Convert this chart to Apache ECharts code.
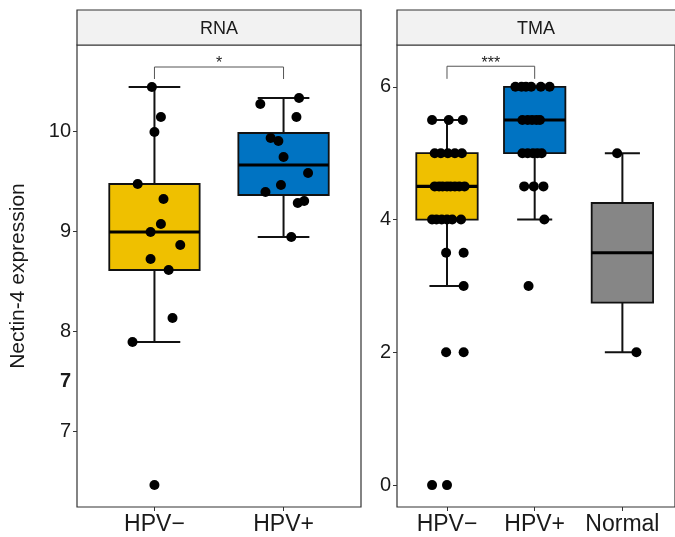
<!DOCTYPE html>
<html>
<head>
<meta charset="utf-8">
<script src="https://cdn.jsdelivr.net/npm/echarts@6/dist/echarts.min.js"></script>
<style>
  html, body { margin: 0; padding: 0; background: #fff; }
  #chart { width: 675px; height: 537px; }
</style>
</head>
<body>
<div id="chart"></div>
<script>
// ---------------- DATA ----------------
var rnaCategories = ['HPV\u2212', 'HPV+'];
var tmaCategories = ['HPV\u2212', 'HPV+', 'Normal'];

// RNA panel: box statistics [lowerWhisker, Q1, median, Q3, upperWhisker]
var rnaBoxNeg = [7.89, 8.61, 8.99, 9.47, 10.44];
var rnaBoxPos = [8.94, 9.36, 9.66, 9.98, 10.33];
// RNA panel: points (values) and their horizontal jitter (category units)
var rnaNegValues = [10.44, 10.14, 9.99, 9.47, 9.32, 9.07, 8.99, 8.86, 8.72, 8.61, 8.13, 7.89, 6.46];
var rnaNegJitter = [-0.02, 0.05, 0.00, -0.13, 0.07, 0.05, -0.03, 0.20, -0.03, 0.11, 0.14, -0.17, 0.00];
var rnaPosValues = [10.33, 10.27, 10.14, 9.93, 9.90, 9.74, 9.58, 9.46, 9.39, 9.30, 9.28, 8.94];
var rnaPosJitter = [0.12, -0.18, 0.10, -0.10, -0.04, 0.00, 0.19, -0.02, -0.14, 0.16, 0.11, 0.06];

// TMA panel: box statistics
var tmaBoxNeg = [3.0, 4.0, 4.5, 5.0, 5.5];
var tmaBoxPos = [4.0, 5.0, 5.5, 6.0, 6.0];
var tmaBoxNormal = [2.0, 2.75, 3.5, 4.25, 5.0];
// TMA panel: points
var tmaNegValues = [5.5, 5.5, 5.5,
  5, 5, 5, 5, 5,
  4.5, 4.5, 4.5, 4.5, 4.5, 4.5, 4.5, 4.5,
  4, 4, 4, 4, 4, 4,
  3.5, 3.5, 3, 2, 2, 0, 0];
var tmaNegJitter = [-0.17, 0.02, 0.18,
  -0.14, -0.07, 0.01, 0.09, 0.17,
  -0.14, -0.09, -0.05, 0.00, 0.04, 0.09, 0.14, 0.20,
  -0.17, -0.12, -0.06, 0.00, 0.06, 0.16,
  -0.01, 0.19, 0.19, -0.01, 0.19, -0.17, 0.00];
var tmaPosValues = [6, 6, 6, 6, 6, 6,
  5.5, 5.5, 5.5, 5.5, 5.5,
  5, 5, 5, 5, 5,
  4.5, 4.5, 4.5, 4, 3];
var tmaPosJitter = [-0.22, -0.15, -0.10, -0.04, 0.07, 0.17,
  -0.14, -0.08, -0.03, 0.02, 0.06,
  -0.14, -0.08, -0.02, 0.03, 0.08,
  -0.12, -0.01, 0.10, 0.11, -0.07];
var tmaNormalValues = [5, 2];
var tmaNormalJitter = [-0.06, 0.16];

// Y-axis tick labels
var rnaTickValues = [7, 8, 9, 10];
var rnaLabelValues = [7, 7.5, 8, 9, 10];
var rnaLabelTexts = ['7', '{b|7}', '8', '9', '10'];
var tmaTickValues = [0, 2, 4, 6];

// Significance brackets: [xStart, xEnd, yTop, yDrop] and labels
var rnaBracket = [1, 2, 10.64, 10.52];
var rnaBracketLabel = '*';
var tmaBracket = [1, 2, 6.31, 6.12];
var tmaBracketLabel = '***';

var panelTitles = ['RNA', 'TMA'];
var yTitle = 'Nectin-4 expression';
var fillColors = ['#EFC000', '#0073C2', '#868686'];

// ---------------- CHART ----------------
var FONT = '"Liberation Sans", Arial, Helvetica, sans-serif';
var chart = echarts.init(document.getElementById('chart'), null, { renderer: 'canvas' });

function pts(values, jitter, center) {
  return values.map(function (v, i) { return [center + jitter[i], v]; });
}
function boxItems(boxes) {
  return boxes.map(function (b, i) { return [i + 1, b[0], b[1], b[2], b[3], b[4], i]; });
}

function renderBox(params, api) {
  var x = api.value(0);
  var lo = api.coord([x, api.value(1)]);
  var q1 = api.coord([x, api.value(2)]);
  var med = api.coord([x, api.value(3)]);
  var q3 = api.coord([x, api.value(4)]);
  var hi = api.coord([x, api.value(5)]);
  var bl = api.coord([x - 0.35, 0])[0];
  var br = api.coord([x + 0.35, 0])[0];
  var cl = api.coord([x - 0.2, 0])[0];
  var cr = api.coord([x + 0.2, 0])[0];
  var color = fillColors[api.value(6)];
  var lineStyle = { stroke: '#111', lineWidth: 2 };
  return {
    type: 'group',
    children: [
      { type: 'line', shape: { x1: lo[0], y1: lo[1], x2: hi[0], y2: hi[1] }, style: lineStyle },
      { type: 'line', shape: { x1: cl, y1: lo[1], x2: cr, y2: lo[1] }, style: lineStyle },
      { type: 'line', shape: { x1: cl, y1: hi[1], x2: cr, y2: hi[1] }, style: lineStyle },
      { type: 'rect', shape: { x: bl, y: q3[1], width: br - bl, height: q1[1] - q3[1] },
        style: { fill: color, stroke: '#111', lineWidth: 1.8 } },
      { type: 'line', shape: { x1: bl, y1: med[1], x2: br, y2: med[1] },
        style: { stroke: '#000', lineWidth: 3.2 } }
    ]
  };
}

function makeBracketRenderer(label) {
  return function (params, api) {
    var a = api.coord([api.value(0), api.value(2)]);
    var b = api.coord([api.value(1), api.value(2)]);
    var ad = api.coord([api.value(0), api.value(3)]);
    var bd = api.coord([api.value(1), api.value(3)]);
    var st = { stroke: '#555', lineWidth: 1, fill: null };
    return {
      type: 'group',
      children: [
        { type: 'polyline', shape: { points: [[ad[0], ad[1]], [a[0], a[1]], [b[0], b[1]], [bd[0], bd[1]]] }, style: st },
        { type: 'text', style: { text: label, x: (a[0] + b[0]) / 2, y: a[1] - 3,
            align: 'center', verticalAlign: 'middle', font: '16px ' + FONT, fill: '#222' } }
      ]
    };
  };
}

var grids = [
  { left: 77, top: 45, width: 284, height: 462 },
  { left: 397, top: 45, width: 285, height: 462 }
];

function xAxisFor(idx, cats, max, minv) {
  var vals = cats.map(function (c, i) { return i + 1; });
  return {
    type: 'value', gridIndex: idx, min: minv, max: max, position: 'bottom',
    axisLine: { show: false, onZero: false },
    splitLine: { show: false },
    axisTick: { show: true, customValues: vals, length: 4, lineStyle: { color: '#333', width: 1 } },
    axisLabel: { customValues: vals,
      formatter: function (v) { return cats[Math.round(v) - 1] || ''; },
      fontSize: 23, fontFamily: FONT, color: '#1a1a1a', margin: 6 }
  };
}

var option = {
  animation: false,
  backgroundColor: '#fff',
  grid: grids.map(function (g) {
    return Object.assign({ show: true, borderColor: '#333', borderWidth: 1.2, backgroundColor: '#fff' }, g);
  }),
  xAxis: [
    xAxisFor(0, rnaCategories, 2.6, 0.4),
    xAxisFor(1, tmaCategories, 3.6, 0.43)
  ],
  yAxis: [
    {
      type: 'value', gridIndex: 0, min: 6.24, max: 10.86, position: 'left',
      name: yTitle, nameLocation: 'middle', nameGap: 48,
      nameTextStyle: { fontSize: 21, fontFamily: FONT, color: '#1a1a1a' },
      axisLine: { show: false, onZero: false }, splitLine: { show: false },
      axisTick: { show: true, customValues: rnaTickValues, length: 4, lineStyle: { color: '#333', width: 1 } },
      axisLabel: {
        customValues: rnaLabelValues,
        formatter: function (v) {
          var i = rnaLabelValues.indexOf(v);
          return i >= 0 ? rnaLabelTexts[i] : '';
        },
        fontSize: 20, fontFamily: FONT, color: '#1a1a1a', margin: 6,
        rich: { b: { fontSize: 20, fontFamily: FONT, fontWeight: 'bold', color: '#1a1a1a' } }
      }
    },
    {
      type: 'value', gridIndex: 1, min: -0.33, max: 6.63, position: 'left',
      axisLine: { show: false, onZero: false }, splitLine: { show: false },
      axisTick: { show: true, customValues: tmaTickValues, length: 4, lineStyle: { color: '#333', width: 1 } },
      axisLabel: { customValues: tmaTickValues, fontSize: 20, fontFamily: FONT, color: '#1a1a1a', margin: 6 }
    }
  ],
  graphic: [
    { type: 'rect', shape: { x: grids[0].left, y: 10, width: grids[0].width, height: 35 },
      style: { fill: '#f2f2f2', stroke: '#333', lineWidth: 1.2 } },
    { type: 'text', style: { text: panelTitles[0], x: grids[0].left + grids[0].width / 2, y: 29,
        align: 'center', verticalAlign: 'middle', font: '18px ' + FONT, fill: '#1a1a1a' } },
    { type: 'rect', shape: { x: grids[1].left, y: 10, width: grids[1].width, height: 35 },
      style: { fill: '#f2f2f2', stroke: '#333', lineWidth: 1.2 } },
    { type: 'text', style: { text: panelTitles[1], x: grids[1].left + 139, y: 29,
        align: 'center', verticalAlign: 'middle', font: '18px ' + FONT, fill: '#1a1a1a' } }
  ],
  series: [
    { type: 'custom', xAxisIndex: 0, yAxisIndex: 0, renderItem: renderBox, z: 2,
      data: boxItems([rnaBoxNeg, rnaBoxPos]), encode: { x: 0, y: [1, 5] } },
    { type: 'custom', xAxisIndex: 1, yAxisIndex: 1, renderItem: renderBox, z: 2,
      data: boxItems([tmaBoxNeg, tmaBoxPos, tmaBoxNormal]), encode: { x: 0, y: [1, 5] } },
    { type: 'scatter', xAxisIndex: 0, yAxisIndex: 0, symbolSize: 10, z: 10,
      itemStyle: { color: '#000', opacity: 1 },
      data: pts(rnaNegValues, rnaNegJitter, 1).concat(pts(rnaPosValues, rnaPosJitter, 2)) },
    { type: 'scatter', xAxisIndex: 1, yAxisIndex: 1, symbolSize: 10, z: 10,
      itemStyle: { color: '#000', opacity: 1 },
      data: pts(tmaNegValues, tmaNegJitter, 1).concat(pts(tmaPosValues, tmaPosJitter, 2))
        .concat(pts(tmaNormalValues, tmaNormalJitter, 3)) },
    { type: 'custom', xAxisIndex: 0, yAxisIndex: 0, renderItem: makeBracketRenderer(rnaBracketLabel), z: 11,
      data: [rnaBracket], encode: { x: [0, 1], y: [2, 3] } },
    { type: 'custom', xAxisIndex: 1, yAxisIndex: 1, renderItem: makeBracketRenderer(tmaBracketLabel), z: 11,
      data: [tmaBracket], encode: { x: [0, 1], y: [2, 3] } }
  ]
};
chart.setOption(option);
</script>
</body>
</html>
